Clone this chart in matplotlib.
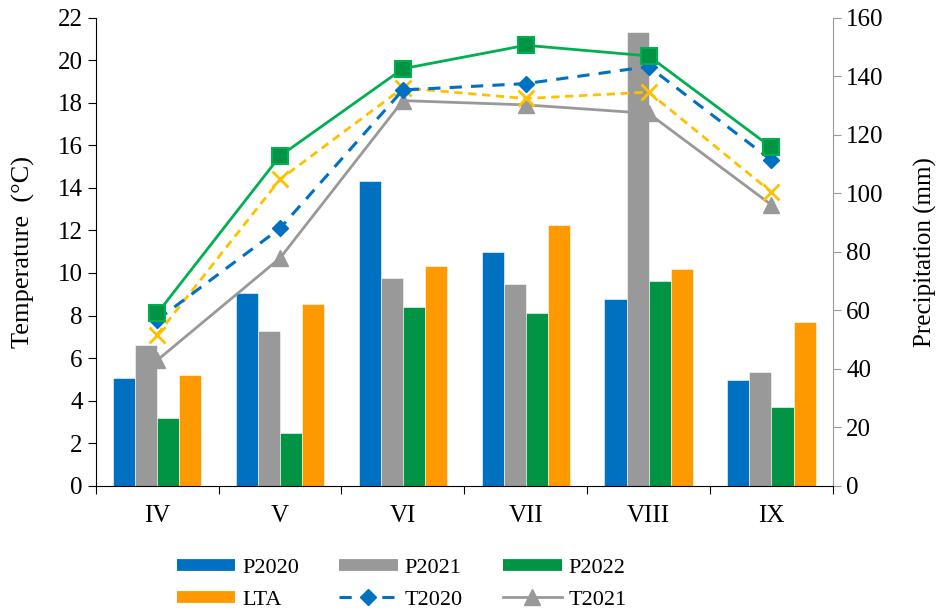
import numpy as np
import matplotlib.pyplot as plt
from matplotlib.lines import Line2D

plt.rcParams['font.family'] = ['Liberation Serif', 'DejaVu Serif']
plt.rcParams['font.size'] = 18

months = ['IV', 'V', 'VI', 'VII', 'VIII', 'IX']

# monthly precipitation, mm
p2020 = [37, 66, 104, 80, 64, 36]
p2021 = [48, 53, 71, 69, 155, 39]
p2022 = [23, 18, 61, 59, 70, 27]
p_lta = [38, 62, 75, 89, 74, 56]

# mean monthly air temperature, °C
t2020 = [7.8, 12.1, 18.6, 18.9, 19.7, 15.3]
t2021 = [5.9, 10.7, 18.1, 17.9, 17.5, 13.2]
t2022 = [8.1, 15.5, 19.6, 20.7, 20.2, 15.9]
t_lta = [7.1, 14.4, 18.7, 18.2, 18.5, 13.8]

c_blue = '#0070C0'
c_gray = '#999999'
c_green = '#009444'
c_orange = '#FF9900'
c_yellow = '#FFC000'
c_lgreen = '#00B050'

x = np.arange(len(months))
w = 0.18

fig = plt.figure(figsize=(9.39, 6.08), dpi=100)
ax = fig.add_axes([0.102, 0.201, 0.785, 0.770])
ax2 = ax.twinx()

# bars on the precipitation axis
ax2.bar(x - 1.5 * w, p2020, w, color=c_blue, edgecolor='white', linewidth=0.4)
ax2.bar(x - 0.5 * w, p2021, w, color=c_gray, edgecolor='white', linewidth=0.4)
ax2.bar(x + 0.5 * w, p2022, w, color=c_green, edgecolor='white', linewidth=0.4)
ax2.bar(x + 1.5 * w, p_lta, w, color=c_orange, edgecolor='white', linewidth=0.4)
ax2.set_ylim(0, 160)
ax2.set_yticks(range(0, 161, 20))

# temperature lines drawn above the bars
ax.set_zorder(ax2.get_zorder() + 1)
ax.patch.set_visible(False)
ax.plot(x, t2021, color=c_gray, lw=2, marker='^', ms=11)
ax.plot(x, t_lta, color=c_yellow, lw=2, ls=(0, (3, 2)), marker='x', ms=11, mew=2)
ax.plot(x, t2020, color=c_blue, lw=2.2, ls=(0, (4, 3)), marker='D', ms=8)
ax.plot(x, t2022, color=c_lgreen, lw=2, marker='s', ms=12,
        mfc=c_green, mec=c_lgreen, mew=1.5)

ax.set_xlim(-0.5, len(months) - 0.5)
ax.set_ylim(0, 22)
ax.set_yticks(range(0, 23, 2))
ax.set_xticks(np.arange(-0.5, len(months), 1.0))
ax.set_xticklabels([])
ax.set_xticks(x, minor=True)
ax.set_xticklabels(months, minor=True)
ax.tick_params(axis='x', which='minor', length=0, pad=14)
ax.tick_params(axis='x', which='major', length=6, direction='out')
ax.tick_params(axis='y', length=6, direction='out')
ax.set_ylabel('Temperature  (°C)', fontsize=19, labelpad=16)
ax2.set_ylabel('Precipitation (mm)', fontsize=18, labelpad=22)
ax2.tick_params(axis='y', length=6, color=c_gray, direction='out')

for a in (ax, ax2):
    a.spines['top'].set_visible(False)
ax.spines['right'].set_visible(False)
ax2.spines['left'].set_visible(False)
ax2.spines['bottom'].set_visible(False)
ax2.spines['right'].set_color(c_gray)

bar_kw = dict(lw=8.5, solid_capstyle='butt')
handles = [
    Line2D([], [], color=c_blue, **bar_kw),
    Line2D([], [], color=c_orange, **bar_kw),
    Line2D([], [], color=c_gray, **bar_kw),
    Line2D([], [], color=c_blue, lw=2.2, ls=(0, (4, 3)), marker='D', ms=8),
    Line2D([], [], color=c_green, **bar_kw),
    Line2D([], [], color=c_gray, lw=2, marker='^', ms=11),
]
labels = ['P2020', 'LTA', 'P2021', 'T2020', 'P2022', 'T2021']
fig.legend(handles, labels, ncol=3, frameon=False, loc='upper left',
           bbox_to_anchor=(0.188, 0.083), borderaxespad=0, borderpad=0,
           fontsize=16, handlelength=2.65, handletextpad=0.3,
           columnspacing=1.8, labelspacing=0.5)

fig.savefig('out.png', dpi=100)
